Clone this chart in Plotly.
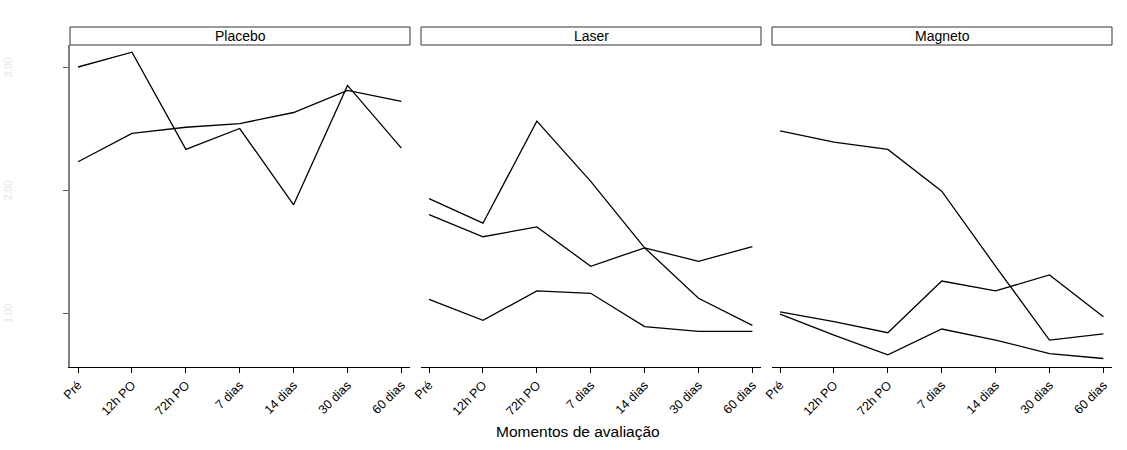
import plotly.graph_objects as go

categories = ["Pré", "12h PO", "72h PO", "7 dias", "14 dias", "30 dias", "60 dias"]
panels = ["Placebo", "Laser", "Magneto"]

placebo_a = [3.00, 3.12, 2.33, 2.50, 1.88, 2.85, 2.34]
placebo_b = [2.23, 2.46, 2.51, 2.54, 2.63, 2.81, 2.72]
laser_a = [1.93, 1.73, 2.56, 2.07, 1.53, 1.12, 0.90]
laser_b = [1.80, 1.62, 1.70, 1.38, 1.53, 1.42, 1.54]
laser_c = [1.11, 0.94, 1.18, 1.16, 0.89, 0.85, 0.85]
magneto_a = [2.48, 2.39, 2.33, 1.99, 1.38, 0.78, 0.83]
magneto_b = [1.01, 0.93, 0.84, 1.26, 1.18, 1.31, 0.97]
magneto_c = [0.99, 0.82, 0.66, 0.87, 0.78, 0.67, 0.63]

y_ticks = [1, 2, 3]
y_ticktext = ["1.00", "2.00", "3.00"]

series = [
    ("x", placebo_a), ("x", placebo_b),
    ("x2", laser_a), ("x2", laser_b), ("x2", laser_c),
    ("x3", magneto_a), ("x3", magneto_b), ("x3", magneto_c),
]

fig = go.Figure()
for xa, vals in series:
    fig.add_trace(go.Scatter(x=categories, y=vals, xaxis=xa, yaxis="y",
                             mode="lines", line=dict(color="black", width=1.3),
                             showlegend=False, hoverinfo="skip"))

W, H = 1127, 450
ml, mr, mt, mb = 70, 15, 27, 83
pw = W - ml - mr
ph = H - mt - mb
panel_px = [(70, 410), (421, 761), (772, 1112)]
domains = [[(a - ml) / pw, (b - ml) / pw] for a, b in panel_px]
ytop = (367 - 45) / ph

font = "Liberation Sans, Arial, sans-serif"
xrange_ = [-0.15, 6.16]
yrange_ = [1 - 54 / 123, 3 + 22 / 123]

layout = dict(
    width=W, height=H,
    margin=dict(l=ml, r=mr, t=mt, b=mb),
    paper_bgcolor="white", plot_bgcolor="white",
    font=dict(family=font, color="black", size=12.5),
    yaxis=dict(domain=[0, ytop], range=yrange_, tickvals=y_ticks, ticktext=y_ticktext,
               showticklabels=False, ticks="outside", ticklen=5, tickcolor="#555555",
               showline=True, linecolor="#808080", linewidth=1.5,
               showgrid=False, zeroline=False, anchor="x", automargin=False),
)
for i, dom in enumerate(domains):
    key = "xaxis" if i == 0 else f"xaxis{i+1}"
    layout[key] = dict(domain=dom, type="category", range=xrange_,
                       tickangle=-45, ticks="outside", ticklen=5, tickcolor="black",
                       showline=True, linecolor="black", linewidth=1,
                       showgrid=False, zeroline=False, anchor="y", automargin=False,
                       tickfont=dict(size=12.5, family=font, color="black"))
fig.update_layout(**layout)

shapes = []
annotations = []
for name, dom in zip(panels, domains):
    shapes.append(dict(type="rect", xref="paper", yref="paper",
                       x0=dom[0], x1=dom[1], y0=ytop, y1=1.0,
                       line=dict(color="#333333", width=1), fillcolor="white"))
    annotations.append(dict(text=name, xref="paper", yref="paper",
                            x=(dom[0] + dom[1]) / 2, y=(ytop + 1) / 2,
                            showarrow=False, xanchor="center", yanchor="middle",
                            font=dict(size=14, family=font, color="black")))

annotations.append(dict(text="Momentos de avaliação", xref="paper", yref="paper",
                        x=(578 - ml) / pw, y=(367 - 431) / ph, showarrow=False,
                        xanchor="center", yanchor="middle",
                        font=dict(size=15.5, family=font, color="black")))

# faint y tick labels at the far left
for v, t in zip(y_ticks, y_ticktext):
    annotations.append(dict(text=t, xref="paper", yref="y", x=(8 - ml) / pw, y=v,
                            showarrow=False, textangle=-90, xanchor="center",
                            yanchor="middle",
                            font=dict(size=10, family=font, color="#e4e4e4")))

fig.update_layout(shapes=shapes, annotations=annotations)
fig.write_html("out.html")
